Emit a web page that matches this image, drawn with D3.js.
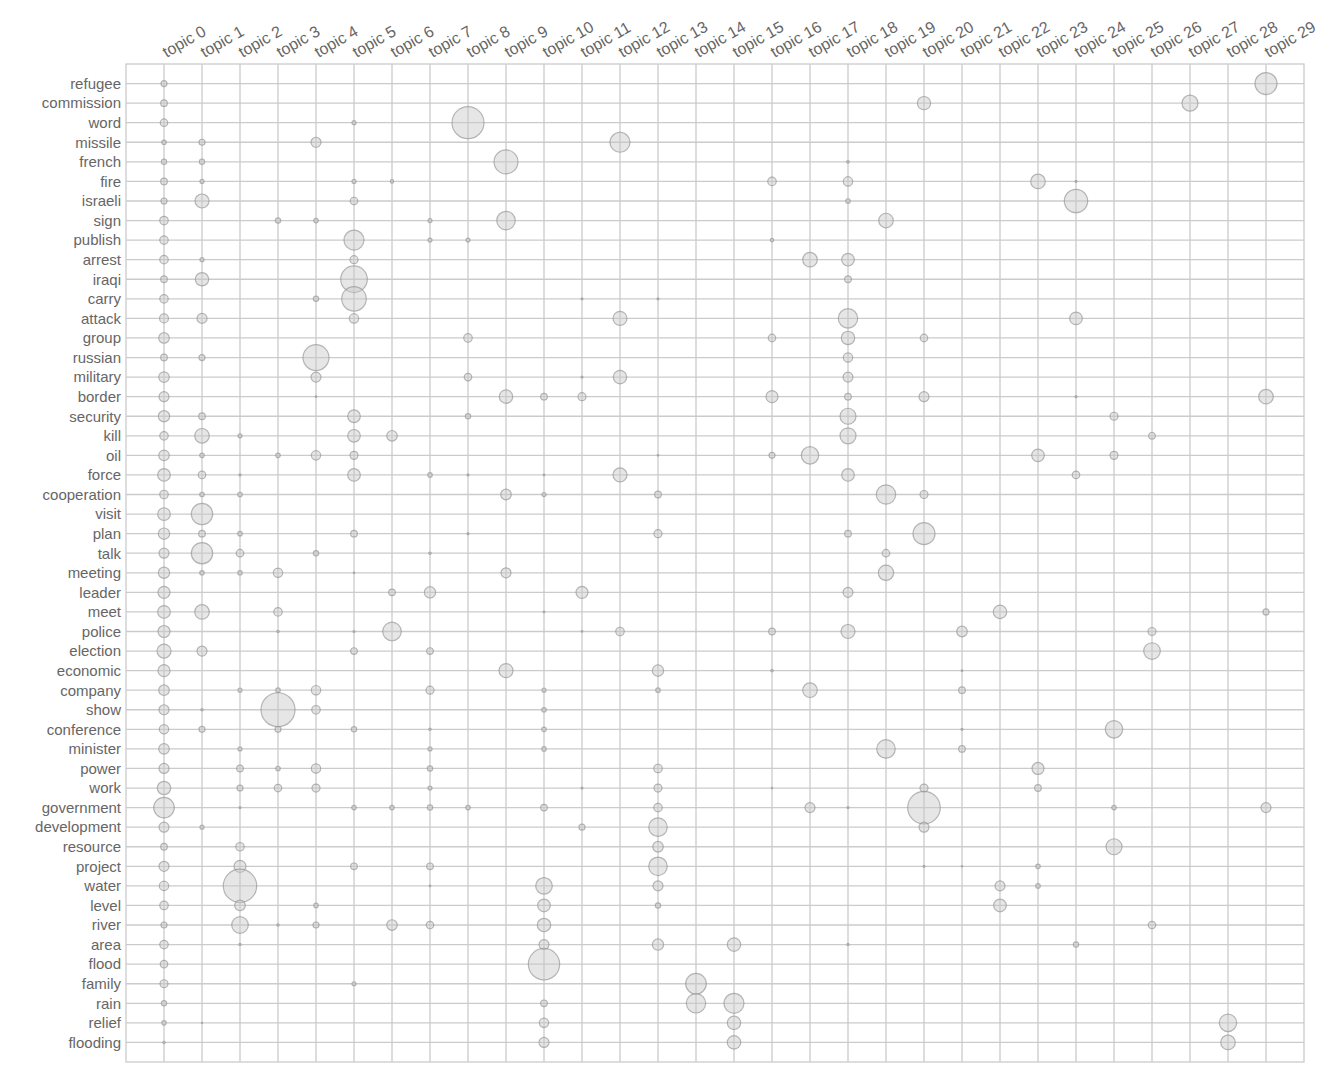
<!DOCTYPE html>
<html>
<head>
<meta charset="utf-8">
<script src="https://cdn.jsdelivr.net/npm/d3@7"></script>
<style>
  html, body { margin: 0; padding: 0; background: #fff; }
  svg text { font-family: "Liberation Sans", Arial, Helvetica, sans-serif; }
</style>
</head>
<body>
<svg id="chart" width="1344" height="1072"></svg>
<script>
const words = ["refugee","commission","word","missile","french","fire","israeli","sign","publish","arrest","iraqi","carry","attack","group","russian","military","border","security","kill","oil","force","cooperation","visit","plan","talk","meeting","leader","meet","police","election","economic","company","show","conference","minister","power","work","government","development","resource","project","water","level","river","area","flood","family","rain","relief","flooding"];

const topics = d3.range(30).map(i => "topic " + i);

// [topic index, weight] pairs for each word (same order as words)
const weights = [
  [[0,9],[29,121]],
  [[0,11],[20,44],[27,64]],
  [[0,14],[5,4],[8,256]],
  [[0,5],[1,9],[4,25],[12,100]],
  [[0,7],[1,7],[9,144],[18,1.7]],
  [[0,11],[1,4],[5,4],[6,2.9],[16,18],[18,22],[23,53],[24,1]],
  [[0,9],[1,49],[5,14],[18,5],[24,137]],
  [[0,18],[3,7],[4,5],[7,4],[9,86],[19,53]],
  [[0,18],[5,100],[7,4],[8,4],[16,2.9]],
  [[0,18],[1,4],[5,16],[17,53],[18,40]],
  [[0,11],[1,45],[5,177],[18,11]],
  [[0,18],[4,7],[5,151],[11,1],[13,1]],
  [[0,20],[1,25],[5,22],[12,49],[18,94],[24,40]],
  [[0,28],[8,18],[16,14],[18,45],[20,14]],
  [[0,11],[1,9],[4,169],[18,22]],
  [[0,28],[4,25],[8,14],[11,1],[12,45],[18,25]],
  [[0,25],[4,0.5],[9,45],[10,11],[11,16],[16,36],[18,11],[20,25],[24,1],[29,53]],
  [[0,32],[1,11],[5,40],[8,7],[18,64],[25,16]],
  [[0,18],[1,53],[2,4],[5,40],[6,28],[18,64],[26,11]],
  [[0,28],[1,5],[3,5],[4,22],[5,16],[13,0.6],[16,9],[17,76],[23,40],[25,16]],
  [[0,40],[1,14],[2,1.4],[5,40],[7,5],[8,1],[10,0.6],[12,49],[18,40],[24,14]],
  [[0,18],[1,5],[2,5],[9,28],[10,4],[13,11],[19,94],[20,16]],
  [[0,40],[1,114]],
  [[0,32],[1,11],[2,5],[5,11],[8,1],[13,16],[18,11],[20,121]],
  [[0,25],[1,114],[2,14],[4,7],[7,1.4],[19,14]],
  [[0,32],[1,5],[2,5],[3,22],[5,0.6],[9,25],[19,59]],
  [[0,36],[6,11],[7,32],[11,36],[18,25]],
  [[0,40],[1,53],[3,18],[10,0.6],[22,45],[29,9]],
  [[0,36],[3,1.4],[5,1],[6,86],[11,0.6],[12,18],[16,11],[18,49],[21,28],[26,16]],
  [[0,49],[1,25],[5,11],[7,11],[26,69]],
  [[0,36],[9,49],[13,32],[16,1.4],[21,0.6]],
  [[0,28],[2,4],[3,5],[4,22],[7,16],[10,4],[13,5],[17,53],[21,11]],
  [[0,25],[1,1.4],[3,289],[4,18],[10,5]],
  [[0,22],[1,9],[3,9],[5,7],[7,1.4],[10,5],[21,1],[25,76]],
  [[0,28],[2,4],[7,4],[10,5],[19,86],[21,11]],
  [[0,25],[2,11],[3,5],[4,22],[7,7],[13,18],[23,36]],
  [[0,45],[2,9],[3,14],[4,16],[7,4],[11,1],[13,16],[16,0.4],[20,16],[23,11]],
  [[0,106],[2,1],[5,5],[6,5],[7,7],[8,5],[10,11],[13,18],[17,25],[18,1],[20,266],[25,5],[29,25]],
  [[0,25],[1,4],[11,9],[13,86],[20,25]],
  [[0,11],[2,18],[13,28],[25,64]],
  [[0,25],[2,36],[5,11],[7,11],[13,86],[20,1],[21,0.4],[23,5]],
  [[0,22],[2,279],[7,0.6],[10,69],[13,25],[22,25],[23,5]],
  [[0,18],[2,28],[4,5],[10,40],[13,7],[22,40]],
  [[0,9],[2,69],[3,1.4],[4,9],[6,28],[7,14],[10,45],[26,14]],
  [[0,18],[2,1.4],[10,25],[13,32],[15,45],[18,1.4],[24,7]],
  [[0,14],[10,246]],
  [[0,16],[5,4],[14,106]],
  [[0,7],[10,11],[14,94],[15,100]],
  [[0,5],[1,0.4],[10,22],[15,45],[28,76]],
  [[0,1.4],[10,25],[15,45],[28,53]]
];

const points = [];
weights.forEach((row, wi) => row.forEach(([t, v]) => points.push({word: words[wi], topic: topics[t], value: v})));

const x0 = 126, x1 = 1304, y0 = 64, y1 = 1062;

const svg = d3.select("#chart");

const x = d3.scalePoint().domain(topics).range([x0, x1]).padding(1);
const y = d3.scalePoint().domain(words).range([y0, y1]).padding(1);
const r = d3.scaleSqrt().domain([0, 289]).range([0, 17]);

const gridColor = "#cbcbcb";
const textColor = "#666";

// gridlines
svg.append("g").selectAll("line").data(topics).join("line")
  .attr("x1", d => x(d)).attr("x2", d => x(d)).attr("y1", y0).attr("y2", y1)
  .attr("stroke", gridColor).attr("stroke-width", 1.3);
svg.append("g").selectAll("line").data(words).join("line")
  .attr("x1", x0).attr("x2", x1).attr("y1", d => y(d)).attr("y2", d => y(d))
  .attr("stroke", gridColor).attr("stroke-width", 1.3);

// frame
svg.append("rect").attr("x", x0).attr("y", y0).attr("width", x1 - x0).attr("height", y1 - y0)
  .attr("fill", "none").attr("stroke", gridColor).attr("stroke-width", 1.3);

// axes
const xAxis = svg.append("g").attr("transform", `translate(0,${y0})`)
  .call(d3.axisTop(x).tickSize(0).tickPadding(0));
xAxis.select(".domain").remove();
xAxis.selectAll("text")
  .attr("fill", textColor).style("font-size", "16px")
  .attr("text-anchor", "start")
  .attr("transform", "translate(2,-6) rotate(-30)")
  .attr("dy", "0");

const yAxis = svg.append("g").attr("transform", `translate(${x0},0)`)
  .call(d3.axisLeft(y).tickSize(0).tickPadding(5));
yAxis.select(".domain").remove();
yAxis.selectAll("text").attr("fill", textColor).style("font-size", "15px");

// bubbles
svg.append("g").selectAll("circle").data(points).join("circle")
  .attr("cx", d => x(d.topic))
  .attr("cy", d => y(d.word))
  .attr("r", d => r(d.value))
  .attr("fill", "rgba(200,200,200,0.45)")
  .attr("stroke", "rgba(140,140,140,0.6)")
  .attr("stroke-width", 1.2);
</script>
</body>
</html>
